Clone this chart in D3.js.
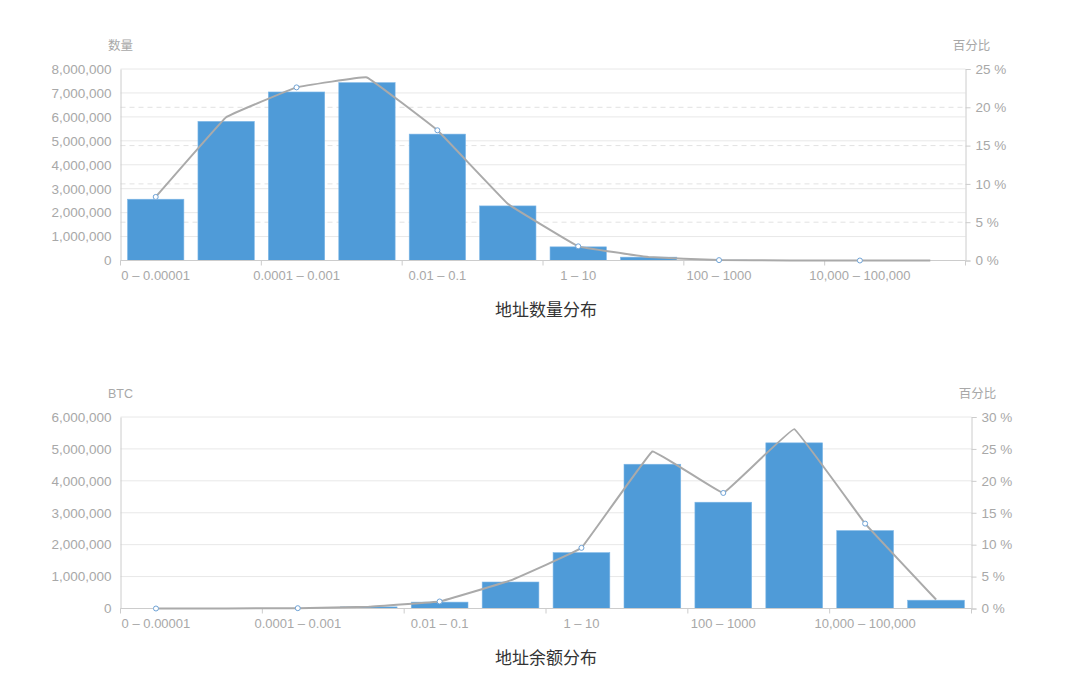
<!DOCTYPE html>
<html>
<head>
<meta charset="utf-8">
<script src="https://cdn.jsdelivr.net/npm/d3@7"></script>
<style>
  body { margin: 0; background: #fff; }
  svg { display: block; font-family: "Helvetica Neue", "Liberation Sans", "Noto Sans CJK SC", sans-serif; }
</style>
</head>
<body>
<svg></svg>
<script>
// buckets (BTC balance ranges)
var categories = ["0 – 0.00001", "0.00001 – 0.0001", "0.0001 – 0.001", "0.001 – 0.01",
  "0.01 – 0.1", "0.1 – 1", "1 – 10", "10 – 100", "100 – 1000", "1000 – 10,000",
  "10,000 – 100,000", "100,000 – 1,000,000"]

// address counts per bucket + share in %
var countValues = [2560000, 5810000, 7040000, 7430000, 5280000, 2280000, 570000, 140000, 15000, 2000, 100, 10]
var countPercent = [8.3, 18.7, 22.6, 23.9, 17.0, 7.4, 1.85, 0.45, 0.05, 0.01, 0, 0]

// BTC balance per bucket + share in %
var balanceValues = [0, 500, 5000, 50000, 200000, 830000, 1750000, 4520000, 3330000, 5190000, 2440000, 260000]
var balancePercent = [0, 0.01, 0.05, 0.27, 1.1, 4.4, 9.5, 24.6, 18.1, 28.1, 13.3, 1.4]

// tick labels
var countTicks = [0, 1000000, 2000000, 3000000, 4000000, 5000000, 6000000, 7000000, 8000000]
var countPctTicks = [0, 5, 10, 15, 20, 25]
var balanceTicks = [0, 1000000, 2000000, 3000000, 4000000, 5000000, 6000000]
var balancePctTicks = [0, 5, 10, 15, 20, 25, 30]

var width = 1080
var height = 673
var barColor = "#4f9bd8"
var lineColor = "#aaaaaa"
var labelColor = "#a8a8a8"
var axisColor = "#cccccc"
var gridColor = "#e8e8e8"

var svg = d3.select("svg")
  .attr("width", width)
  .attr("height", height)

function drawChart(opt) {
  var g = svg.append("g")

  var x = d3.scaleBand()
    .domain(categories)
    .range([opt.left, opt.right])
    .paddingInner(0.2)
    .paddingOuter(0.1)
  // full bucket width, used for the ticks at bucket edges
  var step = (opt.right - opt.left) / categories.length

  var y = d3.scaleLinear()
    .domain([0, d3.max(opt.ticks)])
    .range([opt.bottom, opt.top])
  var y2 = d3.scaleLinear()
    .domain([0, d3.max(opt.pctTicks)])
    .range([opt.bottom, opt.top])

  // solid grid for left axis
  g.selectAll(".grid")
    .data(opt.ticks.slice(1))
    .enter().append("line")
    .attr("x1", opt.left).attr("x2", opt.right)
    .attr("y1", function (d) { return y(d) }).attr("y2", function (d) { return y(d) })
    .attr("stroke", gridColor)
    .attr("stroke-width", 1)

  // dashed grid for right axis
  if (opt.dashed) {
    g.selectAll(".grid2")
      .data(opt.pctTicks.slice(1, -1))
      .enter().append("line")
      .attr("x1", opt.left).attr("x2", opt.right)
      .attr("y1", function (d) { return y2(d) }).attr("y2", function (d) { return y2(d) })
      .attr("stroke", "#e2e2e2")
      .attr("stroke-dasharray", "5,4")
  }

  // bars
  g.selectAll(".bar")
    .data(opt.values)
    .enter().append("rect")
    .attr("x", function (d, i) { return x(categories[i]) })
    .attr("width", x.bandwidth())
    .attr("y", function (d) { return y(d) })
    .attr("height", function (d) { return opt.bottom - y(d) })
    .attr("fill", barColor)
    .attr("stroke", "#7db6e6")
    .attr("stroke-width", 0.6)

  // left axis (no tick marks)
  var yAxis = d3.axisLeft(y)
    .tickValues(opt.ticks)
    .tickFormat(d3.format(","))
    .tickSize(0)
    .tickPadding(9)
  var ya = g.append("g")
    .attr("transform", "translate(" + opt.left + ",0)")
    .call(yAxis)

  // right axis
  var yAxis2 = d3.axisRight(y2)
    .tickValues(opt.pctTicks)
    .tickFormat(function (d) { return d + " %" })
    .tickSize(5)
    .tickPadding(5)
  var yb = g.append("g")
    .attr("transform", "translate(" + opt.right + ",0)")
    .call(yAxis2)

  // bottom axis, labels every other bucket
  var xa = g.append("g")
    .attr("transform", "translate(0," + opt.bottom + ")")
  xa.append("line")
    .attr("x1", opt.left).attr("x2", opt.right)
    .attr("stroke", axisColor)
  xa.selectAll(".xt")
    .data(d3.range(0, categories.length + 1, 2))
    .enter().append("line")
    .attr("x1", function (i) { return opt.left + i * step })
    .attr("x2", function (i) { return opt.left + i * step })
    .attr("y1", 0).attr("y2", 5)
    .attr("stroke", axisColor)
  xa.selectAll(".xl")
    .data(categories.filter(function (c, i) { return i % 2 == 0 }))
    .enter().append("text")
    .attr("x", function (d) { return x(d) + x.bandwidth() / 2 })
    .attr("y", 19)
    .attr("text-anchor", "middle")
    .attr("fill", labelColor)
    .attr("font-size", 13)
    .text(function (d) { return d })

  ;[ya, yb].forEach(function (a) {
    a.select(".domain").attr("stroke", axisColor)
    a.selectAll(".tick line").attr("stroke", axisColor)
    a.selectAll(".tick text").attr("fill", labelColor).attr("font-size", 13.5)
  })

  // percentage line
  var line = d3.line()
    .x(function (d, i) { return x(categories[i]) + x.bandwidth() / 2 })
    .y(function (d) { return y2(d) })
    .curve(d3.curveCardinal.tension(0.85))
  g.append("path")
    .datum(opt.pct)
    .attr("d", line)
    .attr("fill", "none")
    .attr("stroke", lineColor)
    .attr("stroke-width", 2)

  g.selectAll(".dot")
    .data(opt.pct)
    .enter().filter(function (d, i) { return i % 2 == 0 }).append("circle")
    .attr("cx", function (d, i) { return x(categories[i * 2]) + x.bandwidth() / 2 })
    .attr("cy", function (d) { return y2(d) })
    .attr("r", 2.5)
    .attr("fill", "#fff")
    .attr("stroke", "#6fa3d6")
    .attr("stroke-width", 1)

  // axis names
  g.append("text")
    .attr("x", opt.left)
    .attr("y", opt.top - 19)
    .attr("text-anchor", "middle")
    .attr("fill", labelColor)
    .attr("font-size", 12.5)
    .text(opt.leftName)
  g.append("text")
    .attr("x", opt.right + 6)
    .attr("y", opt.top - 19)
    .attr("text-anchor", "middle")
    .attr("fill", labelColor)
    .attr("font-size", 12.5)
    .text("百分比")

  // title
  g.append("text")
    .attr("x", 546)
    .attr("y", opt.bottom + 55)
    .attr("text-anchor", "middle")
    .attr("fill", "#333")
    .attr("font-size", 17)
    .text(opt.title)
}

drawChart({
  left: 120.5, right: 965.5, top: 69, bottom: 260.5,
  values: countValues, pct: countPercent,
  ticks: countTicks, pctTicks: countPctTicks,
  dashed: true, leftName: "数量", title: "地址数量分布"
})

drawChart({
  left: 120.5, right: 971.5, top: 417, bottom: 608.5,
  values: balanceValues, pct: balancePercent,
  ticks: balanceTicks, pctTicks: balancePctTicks,
  dashed: false, leftName: "BTC", title: "地址余额分布"
})
</script>
</body>
</html>
